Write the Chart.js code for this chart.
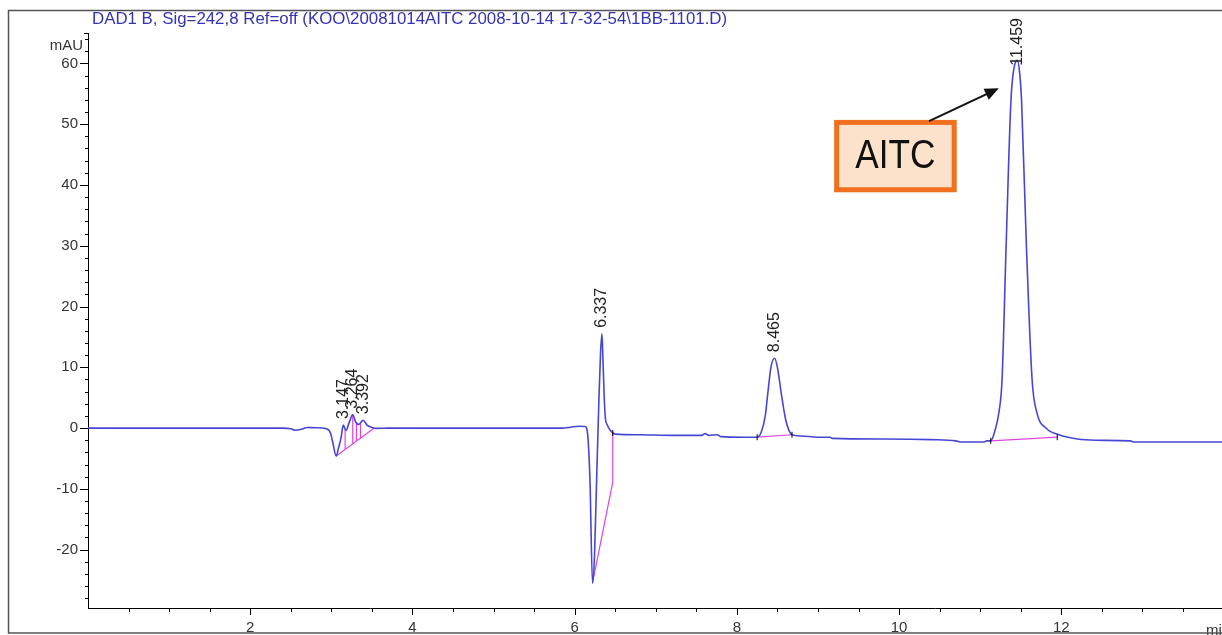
<!DOCTYPE html>
<html>
<head>
<meta charset="utf-8">
<script src="https://cdn.jsdelivr.net/npm/chart.js@4.4.0/dist/chart.umd.min.js"></script>
<style>
  html, body { margin: 0; padding: 0; background: #fff; overflow: hidden; }
  canvas { display: block; }
</style>
</head>
<body>
<canvas id="chart" width="1222" height="635"></canvas>
<script>
// chromatogram trace: retention time (min) / signal (mAU)
const traceTime = [0.00, 2.40, 2.50, 2.56, 2.63, 2.70, 2.80, 2.94, 2.99, 3.02, 3.06, 3.09, 3.12, 3.147, 3.18, 3.22, 3.264, 3.30, 3.34, 3.392, 3.44, 3.50, 3.56, 3.70,
  5.85, 5.95, 6.05, 6.13, 6.16, 6.19, 6.22, 6.245, 6.27, 6.30, 6.32, 6.337, 6.35, 6.365, 6.38, 6.40, 6.44, 6.50, 6.80, 7.20, 7.57, 7.61, 7.65, 7.76, 7.80,
  8.10, 8.25, 8.30, 8.35, 8.38, 8.42, 8.465, 8.50, 8.55, 8.60, 8.64, 8.68, 8.80, 9.00, 9.15, 9.18, 9.80, 10.40, 10.70, 10.77, 11.05, 11.08,
  11.13, 11.18, 11.23, 11.27, 11.32, 11.38, 11.43, 11.459, 11.49, 11.51, 11.57, 11.64, 11.70, 11.81, 11.97, 12.20, 12.42, 12.85, 12.90, 14.0];
const traceSignal = [0.0, 0.0, -0.1, -0.35, -0.2, 0.1, 0.05, -0.1, -0.8, -2.5, -4.6, -3.2, -1.6, 0.5, -0.4, 0.9, 2.2, 1.0, 0.6, 1.3, 0.5, 0.1, -0.05, 0.0,
  0.0, 0.15, 0.3, 0.25, -1.0, -9.0, -25.5, -21, -9, 5, 12.5, 15.5, 11, 5, 1.5, 0.6, -0.4, -1.0, -1.1, -1.2, -1.2, -0.9, -1.2, -1.1, -1.4,
  -1.5, -1.5, -0.7, 2.0, 5.5, 10.0, 11.5, 10.0, 5.5, 1.5, -0.3, -1.1, -1.3, -1.5, -1.5, -1.7, -1.8, -1.9, -2.1, -2.3, -2.3, -2.1,
  -2.1, -0.5, 2.5, 8, 30, 54, 60, 60.5, 58, 54, 30, 8, 2.5, 0.0, -1.1, -1.8, -2.0, -2.1, -2.3, -2.3];

// integration baselines and drop lines (null = break)
const baseTime = [3.06, 3.53, null, 3.17, 3.17, null, 3.264, 3.264, null, 3.31, 3.31, null, 3.36, 3.36, null,
  6.22, 6.47, 6.47, null, 8.25, 8.68, null, 11.13, 11.95];
const baseSignal = [-4.6, 0.0, null, -0.3, -3.5, null, 2.2, -2.6, null, 0.9, -2.1, null, 0.8, -1.66, null,
  -25.5, -8.9, -0.8, null, -1.5, -1.1, null, -2.1, -1.5];

// peak start/end marks
const markTime = [6.47, 8.25, 8.68, 11.13, 11.95];
const markSignal = [-0.8, -1.5, -1.1, -2.1, -1.5];

// peak annotations
const peakTimes = [3.147, 3.264, 3.392, 6.337, 8.465, 11.459];
const peakHeights = [0.5, 2.2, 1.3, 15.5, 11.5, 60.5];
const peakLabels = ['3.147', '3.264', '3.392', '6.337', '8.465', '11.459'];

const xTickLabels = [2, 4, 6, 8, 10, 12];
const yTickLabels = [-20, -10, 0, 10, 20, 30, 40, 50, 60];

const titleText = 'DAD1 B, Sig=242,8 Ref=off (KOO\\20081014AITC 2008-10-14 17-32-54\\1BB-1101.D)';
const FONT = '"Liberation Sans", Arial, sans-serif';

// AITC callout box and arrow, in data units
const aitcBox = { x0: 9.2, x1: 10.71, y0: 50.7, y1: 38.8 };
const aitcArrow = { fromX: 10.37, fromY: 50.5, toX: 11.23, toY: 55.9 };

const pts = (xs, ys) => xs.map((t, i) => ({ x: t, y: ys[i] }));

const decor = {
  id: 'decor',
  afterDraw(chart) {
    const { ctx, chartArea: a, scales: { x, y } } = chart;
    ctx.save();

    // axis ticks (x axis line continues to the page edge)
    ctx.strokeStyle = '#000';
    ctx.lineWidth = 1;
    ctx.beginPath();
    for (let v = -28; v <= 64; v += 2) {
      const py = Math.round(y.getPixelForValue(v)) + 0.5;
      const len = v % 10 === 0 ? 8 : 3;
      ctx.moveTo(a.left - len, py); ctx.lineTo(a.left, py);
    }
    ctx.moveTo(a.left - 4, a.top + 0.5); ctx.lineTo(a.left, a.top + 0.5);
    for (let t = 0.5; t < 14; t += 0.5) {
      const px = Math.round(x.getPixelForValue(t)) + 0.5;
      if (px > chart.width) break;
      const len = t % 2 === 0 ? 7 : 4;
      ctx.moveTo(px, a.bottom); ctx.lineTo(px, a.bottom + len);
    }
    ctx.moveTo(a.right, a.bottom + 0.5); ctx.lineTo(chart.width, a.bottom + 0.5);
    ctx.stroke();

    // x tick labels
    ctx.font = '15px ' + FONT;
    ctx.fillStyle = '#333';
    ctx.textAlign = 'center';
    ctx.textBaseline = 'top';
    xTickLabels.forEach(v => ctx.fillText(String(v), x.getPixelForValue(v), a.bottom + 12));

    // title and units
    ctx.font = '16.85px ' + FONT;
    ctx.fillStyle = '#3434b4';
    ctx.textBaseline = 'middle';
    ctx.textAlign = 'left';
    ctx.fillText(titleText, 92, 19.5);
    ctx.font = '15px ' + FONT;
    ctx.fillStyle = '#333';
    ctx.textAlign = 'right';
    ctx.fillText('mAU', 83, 46);
    ctx.textAlign = 'left';
    ctx.textBaseline = 'top';
    ctx.fillText('min', 1206, 623);

    // peak retention time labels
    ctx.font = '16px ' + FONT;
    ctx.fillStyle = '#222';
    peakTimes.forEach((t, i) => {
      const px = x.getPixelForValue(t);
      const py = y.getPixelForValue(peakHeights[i]) - 6;
      const w = ctx.measureText(peakLabels[i]).width;
      const bottom = Math.max(py, 18 + w);
      ctx.save();
      ctx.translate(px, bottom);
      ctx.rotate(-Math.PI / 2);
      ctx.textAlign = 'left';
      ctx.textBaseline = 'middle';
      ctx.fillText(peakLabels[i], 0, 0);
      ctx.restore();
    });

    // AITC callout
    const bx0 = x.getPixelForValue(aitcBox.x0), bx1 = x.getPixelForValue(aitcBox.x1);
    const by0 = y.getPixelForValue(aitcBox.y0), by1 = y.getPixelForValue(aitcBox.y1);
    ctx.fillStyle = '#fde2cb';
    ctx.fillRect(bx0, by0, bx1 - bx0, by1 - by0);
    ctx.strokeStyle = '#f07020';
    ctx.lineWidth = 5;
    ctx.strokeRect(bx0 + 2.5, by0 + 2.5, bx1 - bx0 - 5, by1 - by0 - 5);
    ctx.save();
    ctx.translate((bx0 + bx1) / 2, (by0 + by1) / 2 + 1);
    ctx.scale(0.88, 1);
    ctx.fillStyle = '#111';
    ctx.font = '40px ' + FONT;
    ctx.textAlign = 'center';
    ctx.textBaseline = 'middle';
    ctx.fillText('AITC', 0, 0);
    ctx.restore();

    const ax0 = x.getPixelForValue(aitcArrow.fromX), ay0 = y.getPixelForValue(aitcArrow.fromY);
    const ax1 = x.getPixelForValue(aitcArrow.toX), ay1 = y.getPixelForValue(aitcArrow.toY);
    const ang = Math.atan2(ay1 - ay0, ax1 - ax0);
    ctx.strokeStyle = '#111';
    ctx.lineWidth = 2;
    ctx.beginPath();
    ctx.moveTo(ax0, ay0);
    ctx.lineTo(ax1 - 10 * Math.cos(ang), ay1 - 10 * Math.sin(ang));
    ctx.stroke();
    ctx.fillStyle = '#111';
    ctx.beginPath();
    ctx.moveTo(ax1, ay1);
    ctx.lineTo(ax1 - 14 * Math.cos(ang) + 6 * Math.sin(ang), ay1 - 14 * Math.sin(ang) - 6 * Math.cos(ang));
    ctx.lineTo(ax1 - 14 * Math.cos(ang) - 6 * Math.sin(ang), ay1 - 14 * Math.sin(ang) + 6 * Math.cos(ang));
    ctx.closePath();
    ctx.fill();

    // outer frame
    ctx.strokeStyle = '#555';
    ctx.lineWidth = 1.5;
    ctx.beginPath();
    ctx.moveTo(1222, 10.5); ctx.lineTo(8.5, 10.5); ctx.lineTo(8.5, 633); ctx.lineTo(1222, 633);
    ctx.stroke();
    ctx.restore();
  }
};

new Chart(document.getElementById('chart'), {
  type: 'line',
  data: {
    datasets: [
      {
        data: pts(traceTime, traceSignal),
        borderColor: '#4646d6',
        borderWidth: 1.6,
        pointRadius: 0,
        cubicInterpolationMode: 'monotone',
        clip: { left: 0, top: 0, right: 6, bottom: 0 },
        order: 1
      },
      {
        data: pts(baseTime, baseSignal),
        borderColor: '#e044e0',
        borderWidth: 1.2,
        pointRadius: 0,
        spanGaps: false,
        order: 2
      },
      {
        type: 'scatter',
        data: pts(markTime, markSignal),
        pointStyle: 'line',
        rotation: 90,
        radius: 3,
        borderColor: '#000',
        borderWidth: 1,
        order: 0
      }
    ]
  },
  options: {
    responsive: false,
    animation: false,
    layout: { padding: { top: 33, left: 0, right: 0, bottom: 0 } },
    plugins: { legend: { display: false }, tooltip: { enabled: false } },
    scales: {
      x: {
        type: 'linear',
        min: 0,
        max: 13.92,
        afterFit(s) { s.height = 27; },
        grid: { display: false },
        border: { display: true, color: '#000', width: 1 },
        ticks: { display: false }
      },
      y: {
        min: -29.6,
        max: 65,
        afterFit(s) { s.width = 88; },
        afterBuildTicks(s) { s.ticks = yTickLabels.map(v => ({ value: v })); },
        grid: { drawOnChartArea: false, drawTicks: true, tickLength: 8, color: 'rgba(0,0,0,0)' },
        border: { display: true, color: '#000', width: 1 },
        ticks: { padding: 2, color: '#333', font: { family: FONT, size: 15 } }
      }
    }
  },
  plugins: [decor]
});
</script>
</body>
</html>
